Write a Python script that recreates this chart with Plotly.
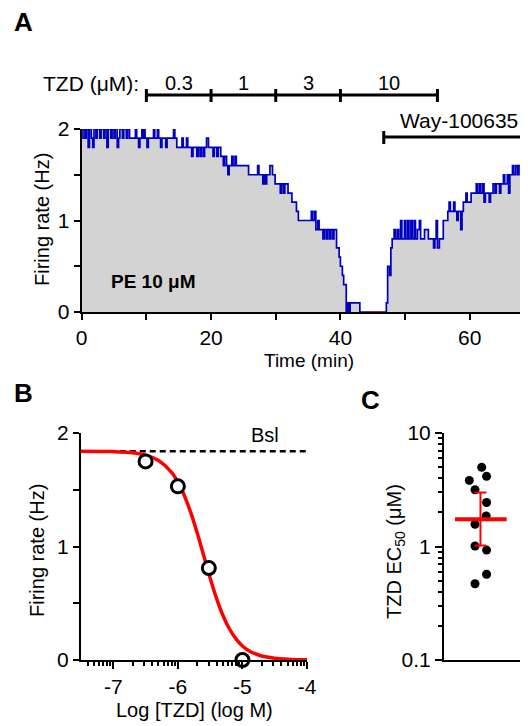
import math
import plotly.graph_objects as go

W, H = 528, 726
OFF = 8  # page body margin offset of the rendered figure
def px(x): return (x - OFF) / W
def py(y): return 1 - (y - OFF) / H

FONT = "Liberation Sans, Arial, sans-serif"

# ---------------- Panel A data: firing-rate trace (step function) ----------------
trace_t = [0.0, 0.2, 0.5, 0.7, 1.0, 1.2, 1.5, 1.7, 1.9, 2.2, 2.4, 2.8, 3.0, 3.4, 3.6, 3.9, 4.1,
           4.5, 4.7, 5.0, 5.2, 5.5, 5.7, 5.9, 6.3, 6.5, 6.9, 7.1, 7.4, 8.3, 8.5, 8.8, 9.0, 9.3,
           9.5, 9.6, 9.8, 10.1, 10.3, 11.1, 11.3, 11.7, 11.9, 12.2, 12.4, 13.0, 13.2, 14.2, 14.4,
           14.7, 15.5, 15.7, 16.2, 16.4, 17.0, 17.2, 17.8, 18.0, 18.3, 18.5, 18.8, 19.0, 19.3,
           19.6, 20.3, 20.5, 20.9, 21.1, 21.5, 21.9, 22.1, 22.4, 22.6, 22.8, 23.2, 23.4, 23.7,
           23.9, 25.8, 27.2, 27.4, 28.0, 28.2, 28.4, 28.6, 29.1, 29.5, 29.9, 30.7, 30.9, 31.2,
           31.4, 31.9, 32.5, 33.2, 33.5, 35.5, 35.7, 36.0, 36.2, 36.5, 36.7, 37.3, 37.5, 37.8,
           38.0, 38.3, 38.5, 38.8, 39.0, 39.4, 39.8, 40.0, 40.3, 40.5, 40.9, 41.1, 41.3, 41.5,
           43.0, 47.1, 47.3, 47.6, 47.8, 48.0, 48.3, 48.5, 48.8, 49.0, 49.3, 49.5, 49.9, 50.1,
           50.4, 50.6, 50.9, 51.1, 51.4, 51.6, 51.9, 52.2, 52.4, 53.0, 53.6, 54.4, 54.6, 54.8,
           55.0, 55.3, 55.9, 56.6, 56.8, 57.0, 57.5, 57.7, 58.0, 58.2, 58.6, 58.8, 59.0, 59.4,
           59.6, 60.2, 61.0, 61.2, 61.5, 61.7, 62.0, 62.2, 62.4, 63.0, 63.2, 63.6, 63.9, 64.1,
           64.6, 64.8, 65.2, 65.4, 65.8, 66.0, 66.2, 66.6, 66.8, 67.1, 67.4, 67.6, 67.9, 68.2,
           68.5, 69.0]
trace_hz = [1.9, 2.0, 1.9, 2.0, 1.8, 2.0, 1.9, 1.8, 2.0, 1.9, 2.0, 1.9, 2.0, 1.9, 2.0, 1.8, 2.0,
            1.9, 2.0, 1.9, 2.0, 1.8, 1.9, 2.0, 1.9, 2.0, 1.9, 2.0, 1.9, 2.0, 1.9, 1.8, 1.9, 2.0,
            1.9, 2.0, 1.9, 1.8, 1.9, 2.0, 1.9, 2.0, 1.9, 1.8, 1.9, 1.8, 1.9, 2.0, 1.9,
            1.8, 1.9, 1.8, 1.9, 1.8, 1.7, 1.8, 1.7, 1.8, 1.7, 1.8, 1.7, 1.8, 1.9,
            1.8, 1.7, 1.8, 1.7, 1.8, 1.7, 1.6, 1.7, 1.6, 1.5, 1.6, 1.7, 1.6, 1.7,
            1.6, 1.5, 1.6, 1.5, 1.4, 1.5, 1.4, 1.5, 1.6, 1.5, 1.4, 1.3, 1.4, 1.3,
            1.4, 1.3, 1.2, 1.1, 1.0, 1.1, 1.0, 1.1, 0.9, 1.0, 0.9, 0.8, 0.9, 0.8,
            0.9, 0.8, 0.9, 0.8, 0.9, 0.7, 0.6, 0.5, 0.4, 0.3, 0.0, 0.1, 0.0, 0.1,
            0.0, 0.1, 0.5, 0.4, 0.7, 0.8, 0.9, 0.8, 0.9, 0.8, 1.0, 0.8, 1.0, 0.8,
            1.0, 0.8, 1.0, 0.8, 1.0, 0.8, 0.9, 1.0, 0.8, 0.9, 0.8, 0.7, 0.8, 1.0,
            0.7, 0.8, 1.0, 1.1, 1.2, 1.1, 1.2, 1.1, 1.0, 1.1, 0.9, 1.1, 1.2, 1.3,
            1.2, 1.3, 1.4, 1.3, 1.4, 1.3, 1.4, 1.2, 1.3, 1.2, 1.3, 1.4, 1.3, 1.4,
            1.3, 1.4, 1.5, 1.4, 1.5, 1.3, 1.5, 1.6, 1.5, 1.6, 1.5, 1.6, 1.5, 1.6,
            1.5, 1.5]

tzd_labels = ["0.3", "1", "3", "10"]
tzd_edges = [10, 20, 30, 40, 55]
way_start = 46.7
way_label = "Way-100635"
time_max = 69

# ---------------- Panel B data ----------------
log_tzd = [-6.5, -6.0, -5.52, -5.0]
rate_tzd = [1.75, 1.53, 0.81, 0.0]
fit_x = [-7.5, -7.0, -6.75, -6.5, -6.3, -6.1, -5.95, -5.8, -5.7, -5.6, -5.5, -5.4, -5.3,
         -5.2, -5.1, -5.0, -4.9, -4.75, -4.5, -4.25, -4.0]
fit_y = [1.84, 1.836, 1.828, 1.805, 1.758, 1.655, 1.513, 1.299, 1.118, 0.92, 0.722, 0.541,
         0.39, 0.273, 0.186, 0.124, 0.082, 0.044, 0.015, 0.005, 0.002]
bsl_rate = 1.84
bsl_x = [-6.9, -4.0]

# ---------------- Panel C data ----------------
ec50 = [4.98, 4.15, 3.82, 3.16, 2.44, 1.86, 1.57, 1.01, 0.93, 0.57, 0.47]
ec50_x = [0.496, 0.56, 0.333, 0.408, 0.56, 0.555, 0.408, 0.408, 0.56, 0.56, 0.408]
ec50_mean = 1.74
ec50_hi = 2.99
ec50_lo = 1.02

fig = go.Figure()

# Panel A trace
fig.add_trace(go.Scatter(x=trace_t, y=trace_hz, mode="lines", line=dict(shape="hv", color="#0000c0", width=1.7),
                         fill="tozeroy", fillcolor="#d3d3d3", xaxis="x", yaxis="y", showlegend=False))

# Panel B
fig.add_trace(go.Scatter(x=bsl_x, y=[bsl_rate, bsl_rate], mode="lines",
                         line=dict(color="black", width=2.5, dash="6px,4px"),
                         xaxis="x2", yaxis="y2", showlegend=False))
fig.add_trace(go.Scatter(x=fit_x, y=fit_y, mode="lines", line=dict(color="#ff0000", width=3.5, shape="spline"),
                         xaxis="x2", yaxis="y2", showlegend=False))
fig.add_trace(go.Scatter(x=log_tzd, y=rate_tzd, mode="markers", cliponaxis=False,
                         marker=dict(symbol="circle", size=13, color="white", line=dict(color="black", width=3)),
                         xaxis="x2", yaxis="y2", showlegend=False))

# Panel C
fig.add_trace(go.Scatter(x=ec50_x, y=ec50, mode="markers", marker=dict(size=9, color="black"),
                         xaxis="x3", yaxis="y3", showlegend=False))
fig.add_trace(go.Scatter(x=[0.48], y=[ec50_mean], mode="markers", marker=dict(size=1, color="rgba(0,0,0,0)"),
                         error_y=dict(type="data", symmetric=False, array=[ec50_hi - ec50_mean],
                                      arrayminus=[ec50_mean - ec50_lo], color="#ff0000", thickness=2, width=6),
                         xaxis="x3", yaxis="y3", showlegend=False))
fig.add_trace(go.Scatter(x=[0.145, 0.825], y=[ec50_mean, ec50_mean], mode="lines",
                         line=dict(color="#ff0000", width=4), xaxis="x3", yaxis="y3", showlegend=False))

axis_common = dict(showgrid=False, zeroline=False, showline=True, linecolor="black", linewidth=2,
                   ticks="outside", tickcolor="black", tickwidth=2, ticklen=6, automargin=False,
                   tickfont=dict(family=FONT, size=21, color="black"))

b_minor = []
for d in [-8, -7, -6, -5]:
    for k in range(2, 10):
        v = d + math.log10(k)
        if -7.5 <= v <= -4:
            b_minor.append(v)
c_minor = [0.2, 0.3, 0.4, 0.5, 0.6, 0.7, 0.8, 0.9, 2, 3, 4, 5, 6, 7, 8, 9]

fig.update_layout(
    width=W, height=H, autosize=False,
    margin=dict(l=0, r=0, t=0, b=0, pad=0, autoexpand=False),
    paper_bgcolor="white", plot_bgcolor="white", showlegend=False,
    xaxis=dict(axis_common, domain=[px(81.7), px(528)], range=[0, time_max], tickvals=[0, 20, 40, 60],
               minor=dict(tickvals=[10, 30, 50], ticks="outside", ticklen=6, tickwidth=2, tickcolor="black"),
               anchor="y"),
    yaxis=dict(axis_common, domain=[py(312), py(129)], range=[0, 2], tickvals=[0, 1, 2],
               minor=dict(tickvals=[0.5, 1.5], ticks="outside", ticklen=6, tickwidth=2, tickcolor="black"),
               anchor="x"),
    xaxis2=dict(axis_common, domain=[px(81), px(307)], range=[-7.5, -4], tickvals=[-7, -6, -5, -4],
                ticktext=["-7", "-6", "-5", "-4"], ticklen=7,
                minor=dict(tickvals=b_minor, ticks="outside", ticklen=4, tickwidth=1.5, tickcolor="black"),
                anchor="y2"),
    yaxis2=dict(axis_common, domain=[py(660), py(433)], range=[0, 2], tickvals=[0, 1, 2],
                minor=dict(tickvals=[0.5, 1.5], ticks="outside", ticklen=6, tickwidth=2, tickcolor="black"),
                anchor="x2"),
    xaxis3=dict(axis_common, domain=[px(444), px(520)], range=[0, 1], ticks="", showticklabels=False,
                anchor="y3"),
    yaxis3=dict(axis_common, domain=[py(660), py(433)], type="log", range=[-1, 1],
                tickvals=[0.1, 1, 10], ticktext=["0.1", "1", "10"], ticklen=7,
                minor=dict(tickvals=c_minor, ticks="outside", ticklen=4, tickwidth=1.5, tickcolor="black"),
                anchor="x3"),
)

shapes = []
bar_y = py(95)
shapes.append(dict(type="line", xref="x", yref="paper", x0=tzd_edges[0], x1=tzd_edges[-1], y0=bar_y, y1=bar_y,
                   line=dict(color="black", width=3)))
for e in tzd_edges:
    shapes.append(dict(type="line", xref="x", yref="paper", x0=e, x1=e, y0=py(89), y1=py(102),
                       line=dict(color="black", width=3)))
way_y = py(137)
shapes.append(dict(type="line", xref="x", yref="paper", x0=way_start, x1=time_max, y0=way_y, y1=way_y,
                   line=dict(color="black", width=3)))
shapes.append(dict(type="line", xref="x", yref="paper", x0=way_start, x1=way_start, y0=py(131), y1=py(144),
                   line=dict(color="black", width=3)))
fig.update_layout(shapes=shapes)

ann = []
def txt(x, y, s, size=20, bold=False, xref="paper", xanchor="center", angle=0):
    ann.append(dict(x=x, y=y, xref=xref, yref="paper", text=("<b>%s</b>" % s) if bold else s,
                    showarrow=False, xanchor=xanchor, yanchor="middle", textangle=angle,
                    font=dict(family=FONT, size=size, color="black")))

txt(px(23), py(22), "A", size=26, bold=True)
txt(px(23), py(393), "B", size=26, bold=True)
txt(px(370), py(400), "C", size=26, bold=True)
txt(px(141), py(84), "TZD (μM):", size=21, xanchor="right")
for i, lab in enumerate(tzd_labels):
    txt((tzd_edges[i] + tzd_edges[i + 1]) / 2, py(83), lab, size=20, xref="x")
txt(px(459), py(121), way_label, size=21)
txt(px(153), py(281), "PE 10 μM", size=19, bold=True)
txt(px(42), py(220), "Firing rate (Hz)", size=20, angle=-90)
txt(px(309), py(360), "Time (min)", size=19)
txt(-4.65, py(435), "Bsl", size=20, xref="x2")
txt(px(37), py(551), "Firing rate (Hz)", size=20, angle=-90)
txt(px(194), py(710), "Log [TZD] (log M)", size=20)
txt(px(395), py(552), "TZD EC<sub>50</sub> (μM)", size=20, angle=-90)
fig.update_layout(annotations=ann)

fig.write_html("out.html")
